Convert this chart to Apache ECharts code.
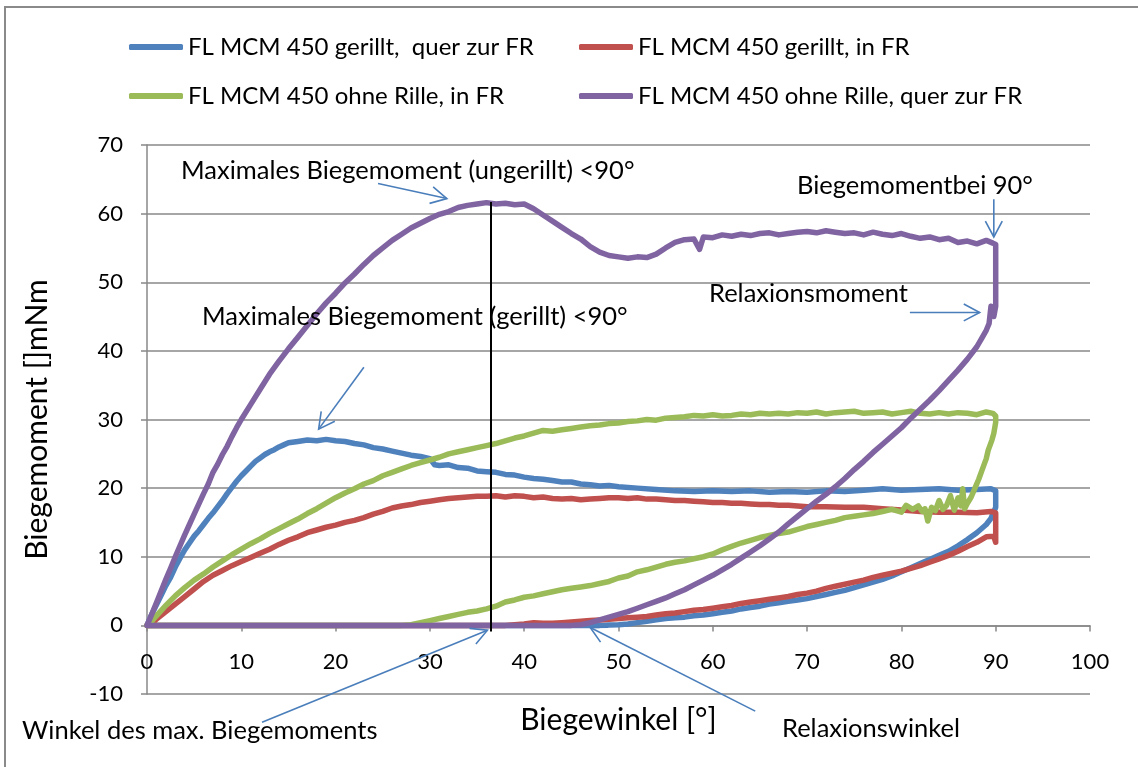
<!DOCTYPE html>
<html>
<head>
<meta charset="utf-8">
<script src="https://cdn.jsdelivr.net/npm/echarts@6/dist/echarts.min.js"></script>
<style>
  html, body { margin: 0; padding: 0; background: #ffffff; }
  #chart { width: 1138px; height: 767px; }
</style>
</head>
<body>
<div id="chart"></div>
<script>
// Bending tests: moment vs. bending angle, loading up to 90° and relaxation back.
const seriesNames = [
  'FL MCM 450 gerillt,  quer zur FR',
  'FL MCM 450 gerillt, in FR',
  'FL MCM 450 ohne Rille, in FR',
  'FL MCM 450 ohne Rille, quer zur FR'
];

// [angle °, moment mNm] — loading branch, relaxation at 90°, unloading branch
const gerilltQuer = [
  [0,0],[0.5,1.6],[1,3.0],[1.5,4.4],[2,5.8],[2.5,7.0],[3,8.5],[3.5,9.8],[4,11.0],[4.5,12.0],
  [5,13.0],[5.5,13.8],[6,14.7],[6.5,15.6],[7,16.4],[7.5,17.3],[8,18.2],[8.5,19.2],[9,20.1],[9.5,21.0],
  [10,21.8],[10.5,22.5],[11,23.2],[11.5,23.9],[12,24.4],[12.5,24.9],[13,25.3],[13.5,25.6],[14,26.0],[14.5,26.3],
  [15,26.6],[16,26.8],[17,27.0],[18,26.9],[19,27.1],[20,26.9],[21,26.8],[22,26.5],[23,26.3],[24,25.9],
  [25,25.7],[26,25.4],[27,25.1],[28,24.8],[29,24.6],[30,24.3],[30.5,23.4],[31,23.3],[32,23.4],[33,23.0],
  [34,22.9],[35,22.5],[36,22.4],[37,22.3],[38,22.0],[39,21.9],[40,21.6],[41,21.4],[42,21.3],[43,21.1],
  [44,20.9],[45,20.9],[46,20.6],[47,20.5],[48,20.3],[49,20.4],[50,20.2],[52,20.0],[54,19.8],[56,19.6],
  [58,19.5],[60,19.6],[62,19.5],[64,19.6],[66,19.4],[68,19.5],[70,19.4],[72,19.6],[74,19.5],[76,19.7],
  [78,19.9],[80,19.7],[82,19.8],[84,19.9],[86,19.7],[88,19.8],[89.5,19.9],[90,19.6],
  [90,17.2],[89.5,15.6],[89,14.7],[88,13.5],[87,12.5],[86,11.6],[85,10.8],[84,10.2],[83,9.6],[82,9.0],
  [81,8.4],[80,7.8],[79,7.2],[78,6.7],[77,6.3],[76,5.9],[75,5.5],[74,5.1],[73,4.8],[72,4.5],
  [71,4.2],[70,3.9],[69,3.7],[68,3.5],[67,3.3],[66,3.1],[65,2.8],[64,2.6],[63,2.4],[62,2.1],
  [61,1.9],[60,1.7],[59,1.5],[58,1.4],[57,1.2],[56,1.1],[55,1.0],[54,0.8],[53,0.6],[52,0.4],
  [51,0.2],[50,0.1],[49,0.05],[48,0],[40,0],[30,0],[20,0],[10,0],[0,0]
];

const gerilltIn = [
  [0,0],[0.5,0.3],[1,0.9],[2,2.0],[3,3.1],[4,4.2],[5,5.3],[6,6.4],[7,7.3],[8,8.0],
  [9,8.7],[10,9.3],[11,9.9],[12,10.5],[13,11.1],[14,11.8],[15,12.4],[16,12.9],[17,13.5],[18,13.9],
  [19,14.3],[20,14.6],[21,15.0],[22,15.3],[23,15.7],[24,16.2],[25,16.6],[26,17.1],[27,17.4],[28,17.6],
  [29,17.9],[30,18.1],[31,18.3],[32,18.5],[33,18.6],[34,18.7],[35,18.8],[36,18.8],[37,18.9],[38,18.7],
  [39,18.9],[40,18.8],[41,18.6],[42,18.7],[43,18.5],[44,18.4],[45,18.5],[46,18.3],[47,18.4],[48,18.5],
  [49,18.6],[50,18.6],[51,18.5],[52,18.6],[53,18.4],[54,18.4],[55,18.3],[56,18.2],[57,18.2],[58,18.1],
  [59,18.0],[60,17.9],[61,17.9],[62,17.8],[63,17.8],[64,17.7],[65,17.6],[66,17.6],[67,17.5],[68,17.5],
  [69,17.4],[70,17.3],[72,17.3],[74,17.2],[76,17.2],[78,17.0],[80,16.8],[82,16.6],[84,16.5],[86,16.5],
  [88,16.4],[89.5,16.6],[90,16.4],
  [90,12.1],[89.8,13.0],[89,12.9],[88,12.1],[87,11.5],[86,10.8],[85,10.2],[84,9.7],[83,9.2],[82,8.7],
  [81,8.3],[80,7.9],[79,7.6],[78,7.3],[77,7.0],[76,6.6],[75,6.3],[74,6.0],[73,5.7],[72,5.4],
  [71,5.0],[70,4.7],[69,4.5],[68,4.2],[67,4.0],[66,3.8],[65,3.6],[64,3.4],[63,3.2],[62,2.9],
  [61,2.7],[60,2.5],[59,2.3],[58,2.2],[57,2.0],[56,1.8],[55,1.7],[54,1.5],[53,1.3],[52,1.2],
  [51,1.1],[50,1.0],[49,0.9],[48,0.8],[47,0.7],[46,0.6],[45,0.5],[44,0.4],[43,0.3],[42,0.3],
  [41,0.4],[40,0.2],[39,0.1],[38,0],[30,0],[20,0],[10,0],[0,0]
];

const ohneRilleIn = [
  [0,0],[0.5,0.6],[1,1.4],[2,2.9],[3,4.3],[4,5.5],[5,6.6],[6,7.5],[7,8.5],[8,9.4],
  [9,10.3],[10,11.1],[11,11.9],[12,12.6],[13,13.4],[14,14.1],[15,14.8],[16,15.5],[17,16.3],[18,17.0],
  [19,17.8],[20,18.6],[21,19.3],[22,19.9],[23,20.6],[24,21.1],[25,21.8],[26,22.3],[27,22.8],[28,23.3],
  [29,23.7],[30,24.1],[31,24.5],[32,25.0],[33,25.3],[34,25.6],[35,25.9],[36,26.2],[37,26.5],[38,26.9],
  [39,27.3],[40,27.6],[41,28.0],[42,28.4],[43,28.3],[44,28.5],[45,28.7],[46,28.9],[47,29.1],[48,29.2],
  [49,29.4],[50,29.5],[51,29.7],[52,29.8],[53,30.0],[54,29.9],[55,30.2],[56,30.3],[57,30.4],[58,30.6],
  [59,30.5],[60,30.7],[61,30.5],[62,30.6],[63,30.8],[64,30.7],[65,30.9],[66,30.8],[67,30.9],[68,30.8],
  [69,31.0],[70,30.9],[71,31.1],[72,30.8],[73,31.0],[74,31.1],[75,31.2],[76,30.9],[77,31.0],[78,31.1],
  [79,30.8],[80,31.0],[81,31.2],[82,30.9],[83,30.8],[84,31.0],[85,30.8],[86,31.0],[87,30.9],[88,30.7],
  [89,31.1],[89.7,30.9],[90,30.5],
  [90,29.6],[89.8,28.0],[89.6,27.0],[89.2,25.5],[89,24.3],[88.6,22.8],[88.2,21.3],[87.8,20.0],[87.4,18.7],[87,17.8],
  [86.7,17.0],[86.5,19.9],[86.3,17.4],[86,18.6],[85.6,16.8],[85.2,18.9],[84.8,17.5],[84.4,16.9],[84,18.2],[83.6,16.7],
  [83.2,17.2],[82.8,15.2],[82.5,17.0],[82.2,16.6],[81.8,17.4],[81.2,16.9],[80.5,17.5],[80,16.5],[79,16.9],[78,16.6],
  [77,16.3],[76,16.1],[75,15.9],[74,15.7],[73,15.3],[72,15.0],[71,14.7],[70,14.4],[69,14.0],[68,13.6],
  [67,13.4],[66,13.1],[65,12.8],[64,12.4],[63,12.0],[62,11.5],[61,11.0],[60,10.4],[59,10.0],[58,9.7],
  [57,9.4],[56,9.2],[55,8.9],[54,8.5],[53,8.1],[52,7.8],[51,7.2],[50,6.9],[49,6.4],[48,6.1],
  [47,5.8],[46,5.6],[45,5.4],[44,5.2],[43,4.9],[42,4.6],[41,4.3],[40,4.1],[39,3.7],[38,3.4],
  [37,2.8],[36,2.4],[35,2.1],[34,1.9],[33,1.6],[32,1.3],[31,1.0],[30,0.7],[29,0.4],[28,0.1],
  [27,0],[20,0],[10,0],[0,0]
];

const ohneRilleQuer = [
  [0,0],[0.5,1.6],[1,3.3],[1.5,5.0],[2,6.7],[2.5,8.3],[3,10.0],[3.5,11.6],[4,13.2],[4.5,14.7],
  [5,16.2],[5.5,17.7],[6,19.2],[6.5,20.6],[7,22.3],[7.5,23.5],[8,24.9],[8.5,26.1],[9,27.5],[9.5,28.8],
  [10,30.0],[11,32.2],[12,34.4],[13,36.6],[14,38.5],[15,40.3],[16,42.0],[17,43.7],[18,45.4],[19,47.0],
  [20,48.4],[21,49.9],[22,51.2],[23,52.6],[24,53.9],[25,55.0],[26,56.1],[27,57.0],[28,57.9],[29,58.6],
  [30,59.3],[31,59.9],[32,60.3],[33,60.9],[34,61.2],[35,61.4],[36,61.6],[37,61.4],[38,61.5],[39,61.3],
  [40,61.4],[41,60.7],[42,59.8],[43,58.9],[44,58.0],[45,57.1],[46,56.3],[47,55.2],[48,54.4],[49,53.9],
  [50,53.7],[51,53.5],[52,53.7],[53,53.6],[54,54.1],[55,55.0],[56,55.8],[57,56.2],[58,56.3],[58.6,54.8],
  [59,56.6],[60,56.5],[61,56.9],[62,56.7],[63,57.0],[64,56.8],[65,57.1],[66,57.2],[67,56.9],[68,57.1],
  [69,57.3],[70,57.4],[71,57.2],[72,57.5],[73,57.3],[74,57.1],[75,57.2],[76,56.9],[77,57.3],[78,57.0],
  [79,56.8],[80,57.1],[81,56.7],[82,56.4],[83,56.6],[84,56.2],[85,56.4],[86,55.8],[87,56.0],[88,55.6],
  [89,56.1],[89.7,55.7],[90,55.5],
  [90,46.5],[89.8,45.0],[89.5,46.5],[89.3,44.0],[89,43.0],[88.5,41.8],[88,40.6],[87,38.8],[86,37.2],[85,35.7],
  [84,34.2],[83,32.8],[82,31.5],[81,30.2],[80,28.8],[79,27.6],[78,26.4],[77,25.2],[76,23.9],[75,22.7],
  [74,21.4],[73,20.2],[72,19.1],[71,18.1],[70,17.0],[69,15.9],[68,14.8],[67,13.6],[66,12.6],[65,11.6],
  [64,10.7],[63,9.8],[62,8.9],[61,8.1],[60,7.3],[59,6.6],[58,5.9],[57,5.2],[56,4.6],[55,4.0],
  [54,3.5],[53,3.0],[52,2.5],[51,2.0],[50,1.6],[49,1.2],[48,0.8],[47,0.4],[46,0.1],[45,0],
  [30,0],[20,0],[10,0],[0,0]
];

// Angle of the maximum moment of the ungrooved sample
const peakAngle = 36.5;
const peakMoment = 61.5;

const colors = ['#4F81BD', '#C0504D', '#9BBB59', '#8064A2'];
const dataSets = [gerilltQuer, gerilltIn, ohneRilleIn, ohneRilleQuer];

const textFont = 'Lato';
const axisGray = '#888888';

const chart = echarts.init(document.getElementById('chart'), null, { renderer: 'canvas' });

const series = dataSets.map((d, i) => ({
  name: seriesNames[i],
  type: 'line',
  data: d,
  showSymbol: false,
  smooth: false,
  z: 2 + i,
  lineStyle: { color: colors[i], width: 5.5, cap: 'round', join: 'round' },
  itemStyle: { color: colors[i] },
  emphasis: { disabled: true },
  silent: true
}));

series[3].markLine = {
  silent: true,
  symbol: ['none', 'none'],
  label: { show: false },
  lineStyle: { color: '#000000', width: 2, type: 'solid' },
  z: 10,
  data: [[{ coord: [peakAngle, -0.9] }, { coord: [peakAngle, peakMoment + 0.2] }]]
};

const legendCommon = {
  orient: 'vertical',
  itemWidth: 54,
  itemHeight: 6,
  icon: 'roundRect',
  itemGap: 21,
  textStyle: { fontFamily: textFont, fontSize: 24, color: '#000', lineHeight: 28 },
  selectedMode: false
};

chart.setOption({
  animation: false,
  backgroundColor: '#ffffff',
  color: colors,
  legend: [
    Object.assign({}, legendCommon, { left: 124, top: 28, data: [seriesNames[0], seriesNames[2]] }),
    Object.assign({}, legendCommon, { left: 574, top: 28, data: [seriesNames[1], seriesNames[3]] })
  ],
  grid: { left: 147, right: 48, top: 145, bottom: 73, containLabel: false, outerBoundsMode: 'none' },
  xAxis: {
    type: 'value',
    min: 0, max: 100, interval: 10,
    name: 'Biegewinkel [°]',
    nameLocation: 'middle',
    nameGap: 11,
    nameTextStyle: { fontFamily: textFont, fontSize: 30, color: '#000' },
    axisLine: { onZero: true, lineStyle: { color: axisGray, width: 1.5 } },
    axisTick: { show: true, inside: false, length: 6, lineStyle: { color: axisGray, width: 1.5 } },
    axisLabel: { fontFamily: textFont, fontSize: 22, color: '#000', margin: -43 },
    splitLine: { show: false }
  },
  yAxis: {
    type: 'value',
    min: -10, max: 70, interval: 10,
    name: 'Biegemoment []mNm',
    nameLocation: 'middle',
    nameGap: 95,
    nameRotate: 90,
    nameTextStyle: { fontFamily: textFont, fontSize: 30, color: '#000' },
    axisLine: { show: true, onZero: false, lineStyle: { color: axisGray, width: 1.5 } },
    axisTick: { show: true, inside: false, length: 6, lineStyle: { color: axisGray, width: 1.5 } },
    axisLabel: { fontFamily: textFont, fontSize: 22, color: '#000', margin: 24 },
    splitLine: { show: true, lineStyle: { color: axisGray, width: 1.5 } }
  },
  series: series
});

// Annotation arrows, given in data coordinates (from -> to)
const arrowColor = '#4A7EBB';
const arrows = [
  { from: [24.5, 64.4], to: [31.8, 62.2] },
  { from: [23.0, 37.6], to: [18.2, 28.6] },
  { from: [89.8, 62.1], to: [89.8, 56.6] },
  { from: [80.9, 45.6], to: [88.3, 45.6] },
  { from: [12.2, -14.1], to: [36.1, -0.7] },
  { from: [64.5, -12.5], to: [47.0, -0.3] }
];

// Annotation texts (pixel layout)
const notes = [
  { text: 'Maximales Biegemoment (ungerillt) <90°', x: 181, y: 171 },
  { text: 'Biegemomentbei 90°', x: 797, y: 186 },
  { text: 'Relaxionsmoment', x: 709, y: 294 },
  { text: 'Maximales Biegemoment (gerillt) <90°', x: 202, y: 317 },
  { text: 'Winkel des max. Biegemoments', x: 22, y: 731 },
  { text: 'Relaxionswinkel', x: 782, y: 729 }
];

function arrowShapes(a) {
  const p0 = chart.convertToPixel({ xAxisIndex: 0, yAxisIndex: 0 }, a.from);
  const p1 = chart.convertToPixel({ xAxisIndex: 0, yAxisIndex: 0 }, a.to);
  const ang = Math.atan2(p0[1] - p1[1], p0[0] - p1[0]);
  const len = 18, spread = 28 * Math.PI / 180;
  const b1 = [p1[0] + len * Math.cos(ang + spread), p1[1] + len * Math.sin(ang + spread)];
  const b2 = [p1[0] + len * Math.cos(ang - spread), p1[1] + len * Math.sin(ang - spread)];
  const style = { stroke: arrowColor, lineWidth: 1.6, fill: null };
  return [
    { type: 'line', shape: { x1: p0[0], y1: p0[1], x2: p1[0], y2: p1[1] }, style: style, z: 20, silent: true },
    { type: 'polyline', shape: { points: [b1, p1, b2] }, style: style, z: 20, silent: true }
  ];
}

const graphics = [
  { type: 'rect', shape: { x: 5, y: 7, width: 1300, height: 900 },
    style: { stroke: '#8a8a8a', lineWidth: 2, fill: null }, z: 0, silent: true }
];
arrows.forEach(a => arrowShapes(a).forEach(g => graphics.push(g)));
notes.forEach(n => graphics.push({
  type: 'text', x: n.x, y: n.y, z: 21, silent: true,
  style: { text: n.text, fontFamily: textFont, fontSize: 25.5, fill: '#000', textVerticalAlign: 'middle', verticalAlign: 'middle' }
}));

chart.setOption({ graphic: graphics });
</script>
</body>
</html>
